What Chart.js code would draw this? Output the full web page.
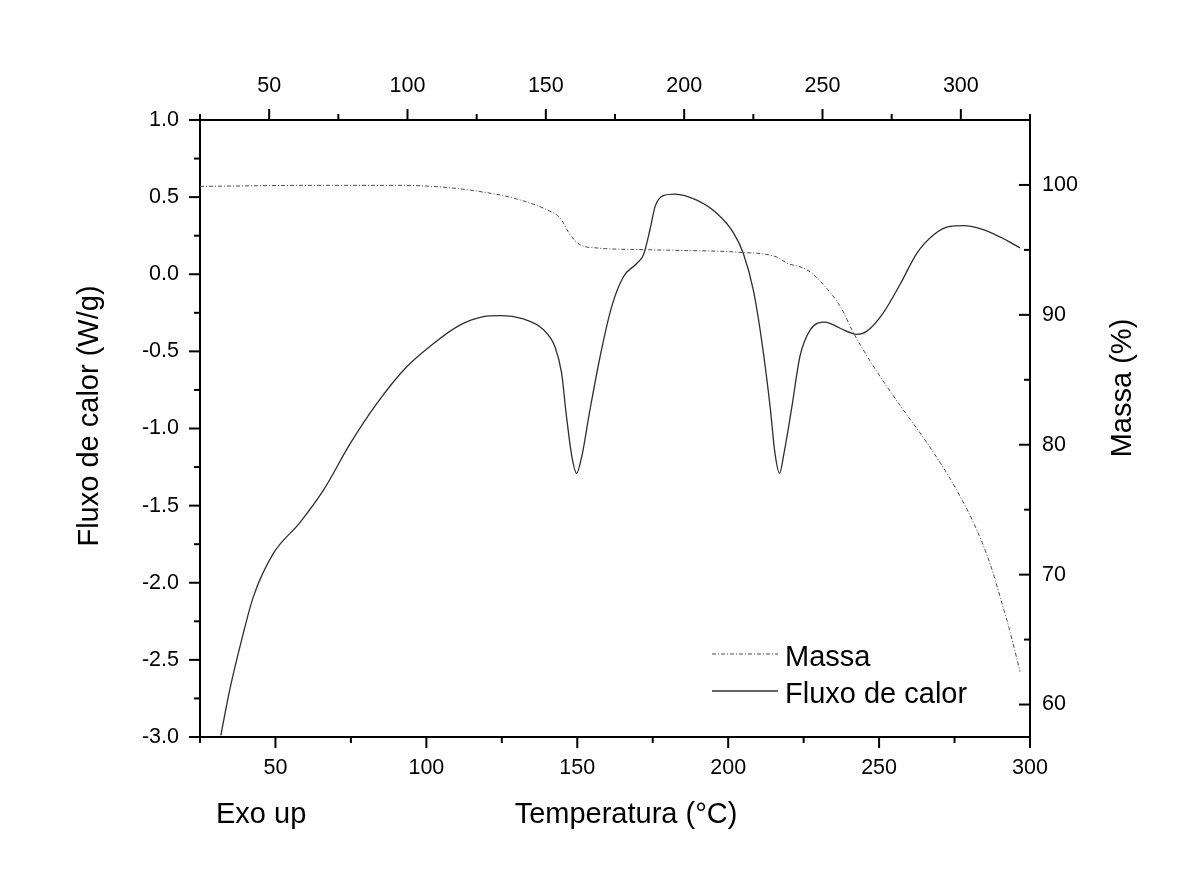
<!DOCTYPE html>
<html>
<head>
<meta charset="utf-8">
<title>DSC / TG</title>
<script src="https://cdn.jsdelivr.net/npm/chart.js@4.4.1/dist/chart.umd.min.js"></script>
<style>
  body { margin: 0; background: #fff; }
  #wrap { width: 1183px; height: 883px; }
</style>
</head>
<body>
<div id="wrap"><canvas id="myChart-dsc" width="1183" height="883"></canvas></div>
<script>

//========== DADOS
// fluxo de calor (W/g) x temperatura (°C)
var tempFluxo = [31.9, 34.9, 38.8, 42.7, 49.3, 58.1, 65.9, 74.7, 83.5, 93.5,
    102.3, 111.1, 118.9, 124.4, 132.1, 138.8, 142.6, 144.8, 146.3, 148.2,
    149.8, 151.5, 154.2, 157.6, 161.4, 165.3, 169.7, 171.9, 174.1, 175.8,
    178.5, 182.4, 189.6, 196.2, 201.7, 205.0, 208.3, 211.1, 213.9, 215.5,
    217.0, 218.5, 221.1, 223.8, 227.2, 232.1, 237.1, 242.6, 245.9, 251.4,
    257.1, 262.5, 268.0, 273.5, 277.9, 284.5, 292.3, 296.7];
var fluxo = [-2.99, -2.69, -2.37, -2.09, -1.81, -1.61, -1.40, -1.10, -0.84, -0.60,
    -0.45, -0.33, -0.275, -0.268, -0.29, -0.36, -0.47, -0.64, -0.90, -1.18,
    -1.29, -1.18, -0.88, -0.53, -0.21, -0.016, 0.07, 0.125, 0.29, 0.44,
    0.51, 0.52, 0.48, 0.395, 0.27, 0.136, -0.10, -0.43, -0.86, -1.16,
    -1.29, -1.16, -0.86, -0.53, -0.36, -0.31, -0.35, -0.39, -0.37, -0.25,
    -0.06, 0.136, 0.255, 0.31, 0.315, 0.29, 0.22, 0.17];

// massa (%) x temperatura (°C)
var tempMassa = [25, 41.6, 58.1, 74.7, 91.3, 104.5, 117.8, 128.8, 139.9, 144.3,
    147.6, 150.9, 156.4, 171.9, 184.0, 203.9, 216.1, 219.4, 226.0, 231.5,
    237.1, 241.5, 248.1, 257.1, 265.8, 273.0, 276.8, 281.8, 286.8, 290.1,
    293.4, 296.7];
var massa = [99.89, 99.93, 99.97, 99.97, 99.97, 99.85, 99.49, 98.99, 98.09, 97.45,
    96.17, 95.40, 95.15, 95.02, 94.96, 94.81, 94.45, 93.99, 93.48, 92.33,
    90.66, 88.62, 86.05, 82.98, 80.17, 77.60, 76.04, 73.74, 70.82, 68.29,
    65.60, 62.53];

// valores dos ticks
var ticksTemp = [50, 100, 150, 200, 250, 300];
var ticksTempTopo = [50, 100, 150, 200, 250, 300];
var ticksFluxo = [-3.0, -2.5, -2.0, -1.5, -1.0, -0.5, 0.0, 0.5, 1.0];
var ticksMassa = [60, 70, 80, 90, 100];

var tituloX = 'Temperatura (°C)';
var tituloY = 'Fluxo de calor (W/g)';
var tituloY2 = 'Massa (%)';
var notaExo = 'Exo up';

var FONTE = '"Liberation Sans", Arial, Helvetica, sans-serif';
Chart.defaults.font.family = FONTE;
Chart.defaults.color = '#000';

function pares(xs, ys) {
    return xs.map(function (x, i) { return { x: x, y: ys[i] }; });
}

function fixaTicks(lista) {
    return function (scale) {
        scale.ticks = lista.map(function (v) { return { value: v }; });
    };
}

//========== tracinhos maiores / menores, titulos e legenda
var TICK_MAIOR = 11, TICK_MENOR = 6;

function tracinhos(ctx, scale, lado) {
    var vals = scale.ticks.map(function (t) { return t.value; });
    var passo = vals[1] - vals[0];
    var menores = [];
    for (var v = vals[0] - passo / 2; v <= scale.max + 1e-9; v += passo) {
        if (v >= scale.min - 1e-9) menores.push(v);
    }
    var desenha = function (valor, tam) {
        var p = scale.getPixelForValue(valor);
        ctx.beginPath();
        if (lado === 'baixo') { ctx.moveTo(p, scale.top); ctx.lineTo(p, scale.top + tam); }
        if (lado === 'cima') { ctx.moveTo(p, scale.bottom); ctx.lineTo(p, scale.bottom - tam); }
        if (lado === 'esq') { ctx.moveTo(scale.right, p); ctx.lineTo(scale.right - tam, p); }
        if (lado === 'dentro') { ctx.moveTo(scale.left, p); ctx.lineTo(scale.left - tam, p); }
        ctx.stroke();
    };
    vals.forEach(function (v) { desenha(v, TICK_MAIOR); });
    menores.forEach(function (v) { desenha(v, TICK_MENOR); });
}

function textoVertical(ctx, texto, x, y) {
    ctx.save();
    ctx.translate(x, y);
    ctx.rotate(-Math.PI / 2);
    ctx.textAlign = 'center';
    ctx.fillText(texto, 0, 0);
    ctx.restore();
}

var moldura = {
    id: 'moldura',
    afterDraw: function (chart) {
        var ctx = chart.ctx;
        ctx.save();
        ctx.strokeStyle = '#000';
        ctx.lineWidth = 2;
        tracinhos(ctx, chart.scales.x, 'baixo');
        tracinhos(ctx, chart.scales.xTopo, 'cima');
        tracinhos(ctx, chart.scales.y, 'esq');
        tracinhos(ctx, chart.scales.yMassa, 'dentro');

        ctx.fillStyle = '#000';
        ctx.font = '29px ' + FONTE;
        ctx.textBaseline = 'alphabetic';
        ctx.textAlign = 'left';
        ctx.fillText(notaExo, 216, 823);
        ctx.textAlign = 'center';
        ctx.fillText(tituloX, 626, 823);
        textoVertical(ctx, tituloY, 98, 416);
        textoVertical(ctx, tituloY2, 1131, 388);

        // legenda
        chart.data.datasets.forEach(function (ds, i) {
            var yl = 654 + i * 37;
            ctx.beginPath();
            ctx.lineWidth = ds.borderWidth;
            ctx.strokeStyle = ds.borderColor;
            ctx.setLineDash(ds.borderDash || []);
            ctx.moveTo(712, yl);
            ctx.lineTo(778, yl);
            ctx.stroke();
            ctx.setLineDash([]);
            ctx.textAlign = 'left';
            ctx.fillText(ds.label, 785, yl + 11.5);
        });
        ctx.restore();
    }
};

function eixo(extra) {
    var base = {
        type: 'linear',
        grid: { display: false, drawTicks: false },
        border: { display: true, color: '#000', width: 2 },
        ticks: { font: { size: 21.5 }, color: '#000', autoSkip: false, maxRotation: 0 }
    };
    for (var k in extra) {
        if (k === 'ticks') {
            for (var t in extra.ticks) base.ticks[t] = extra.ticks[t];
        } else {
            base[k] = extra[k];
        }
    }
    return base;
}

new Chart(document.getElementById('myChart-dsc'), {
    type: 'line',
    data: {
        datasets: [
            {
                label: 'Massa',
                data: pares(tempMassa, massa),
                xAxisID: 'x',
                yAxisID: 'yMassa',
                borderColor: '#4a4a4a',
                borderWidth: 1,
                borderDash: [4, 2, 1, 2],
                pointRadius: 0,
                cubicInterpolationMode: 'monotone',
                fill: false
            },
            {
                label: 'Fluxo de calor',
                data: pares(tempFluxo, fluxo),
                xAxisID: 'x',
                yAxisID: 'y',
                borderColor: '#2e2e2e',
                borderWidth: 1.3,
                pointRadius: 0,
                cubicInterpolationMode: 'monotone',
                fill: false
            }
        ]
    },
    options: {
        responsive: false,
        animation: false,
        layout: { padding: 0 },
        plugins: {
            legend: { display: false },
            tooltip: { enabled: false }
        },
        scales: {
            x: eixo({
                axis: 'x', position: 'bottom', min: 25, max: 300,
                afterBuildTicks: fixaTicks(ticksTemp),
                afterFit: function (s) { s.height = 146; },
                ticks: { padding: 18 }
            }),
            xTopo: eixo({
                axis: 'x', position: 'top', min: 25, max: 325,
                afterBuildTicks: fixaTicks(ticksTempTopo),
                afterFit: function (s) { s.height = 120; },
                ticks: { padding: 21 }
            }),
            y: eixo({
                axis: 'y', position: 'left', min: -3, max: 1,
                afterBuildTicks: fixaTicks(ticksFluxo),
                afterFit: function (s) { s.width = 200; },
                ticks: { padding: 21, callback: function (v) { return v.toFixed(1); } }
            }),
            yMassa: eixo({
                axis: 'y', position: 'right', min: 57.5, max: 105,
                afterBuildTicks: fixaTicks(ticksMassa),
                afterFit: function (s) { s.width = 153; },
                ticks: { padding: 12 }
            })
        }
    },
    plugins: [moldura]
});
</script>
</body>
</html>
